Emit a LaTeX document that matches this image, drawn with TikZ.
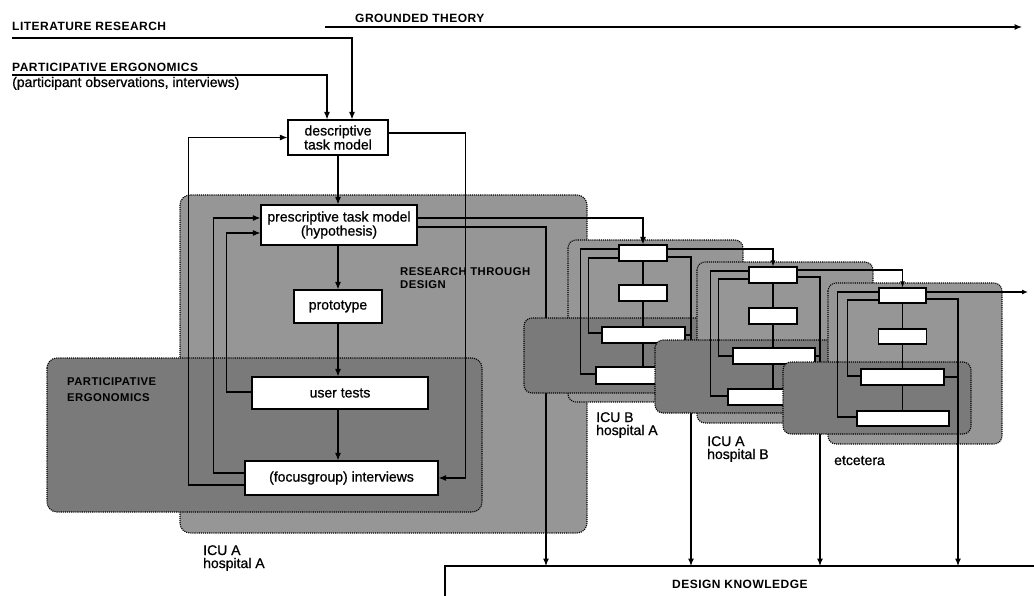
\documentclass[tikz,border=0pt]{standalone}
\usepackage{fontspec}
\setmainfont{Liberation Sans}
\newfontfamily\boxfont[FakeBold=0.8]{Liberation Sans}
\newfontfamily\headfont[LetterSpace=4]{Liberation Sans}
\usetikzlibrary{arrows.meta,calc}
\begin{document}
\begin{tikzpicture}[x=1pt,y=-1pt,
  conn/.style={line width=1.15pt},
  arr/.style={conn,-{Latex[length=7.5pt,width=6pt]}},
  sarr/.style={conn,-{Latex[length=6pt,width=5pt]}},
  box/.style={draw,fill=white,line width=1.1pt,inner sep=0pt,align=center,font=\boxfont\fontsize{14}{13}\selectfont},
  sbox/.style={draw,fill=white,line width=1.1pt,inner sep=0pt},
  rtd/.style={fill=black!41,draw=black,densely dotted,line width=1.1pt,rounded corners=10pt},
  pe/.style={fill=black!52,draw=black,densely dotted,line width=1.1pt,rounded corners=10pt},
  head/.style={font=\headfont\bfseries\fontsize{12}{12}\selectfont,inner sep=0pt,anchor=base west},
  rlab/.style={font=\headfont\bfseries\fontsize{11.3}{11.3}\selectfont,inner sep=0pt,anchor=base west,text=black},
  lbl/.style={font=\boxfont\fontsize{14}{13}\selectfont,inner sep=0pt,anchor=base west}]
\useasboundingbox (0,0) rectangle (1034,596);

% ---------- headings ----------
\node[head] (lr) at (12,31) {LITERATURE RESEARCH};
\node[head] (gt) at (355,23) {GROUNDED THEORY};
\node[head] (pehead) at (12,72) {PARTICIPATIVE ERGONOMICS};
\node[lbl] (pesub) at (12,87) {(participant observations, interviews)};
\coordinate (lrstart) at (12,38);
\coordinate (pestart) at (12,75);
\coordinate (gtstart) at (325,27);
\coordinate (gtend) at (1022,27);

% ---------- design knowledge ----------
\coordinate (dkbl) at (445,600);
\coordinate (dktl) at (445,566);
\coordinate (dktr) at (1040,566);
\coordinate (dk1) at (546,566);
\coordinate (dk2) at (691,566);
\coordinate (dk3) at (820,566);
\coordinate (dk4) at (958,566);
\draw[conn] (dkbl) -- (dktl) -- (dktr);
\node[head] (dk) at (672,588) {DESIGN KNOWLEDGE};

% ---------- main card: ICU A hospital A ----------
\draw[rtd] (180,195) rectangle (587,533);
\draw[pe] (47,358) rectangle (482,512);
\node[rlab] (rtd1) at (400,276) {RESEARCH THROUGH};
\node[rlab] (rtd2) at (400,289) {DESIGN};
\node[rlab] (pel1) at (67,385) {PARTICIPATIVE};
\node[rlab] (pel2) at (67,401) {ERGONOMICS};

\node[box,minimum width=100pt,minimum height=35pt] (desc) at (338,137.5) {descriptive\\task model};
\node[box,minimum width=156pt,minimum height=40pt] (presc) at (339,225) {prescriptive task model\\(hypothesis)};
\node[box,minimum width=88pt,minimum height=33pt] (proto) at (338,306.5) {prototype};
\node[box,minimum width=176pt,minimum height=32pt] (utest) at (340,393) {user tests};
\node[box,minimum width=193pt,minimum height=34pt] (focus) at (341.5,478) {(focusgroup) interviews};

\draw[arr] (lrstart) -| ([xshift=14pt]desc.north);
\draw[arr] (pestart) -| ([xshift=-11pt]desc.north);
\draw[arr] (gtstart) -- (gtend);

\draw[arr] (desc.south) -- (desc.south |- presc.north);
\draw[arr] (proto.north |- presc.south) -- (proto.north);
\draw[arr] (proto.south) -- (proto.south |- utest.north);
\draw[arr] (proto.south |- utest.south) -- (proto.south |- focus.north);

\draw[arr] ($(focus.west)+(0,7)$) -| ([xshift=-99pt]desc.west) -- (desc.west);
\draw[arr] ($(focus.west)+(0,-5)$) -| ($(presc.west)+(-47,-7)$) -- ($(presc.west)+(0,-7)$);
\draw[arr] ($(utest.west)+(0,-1)$) -| ($(presc.west)+(-34,8)$) -- ($(presc.west)+(0,8)$);
\draw[arr] ($(desc.east)+(0,-4.5)$) -| ($(focus.east)+(27,0)$) -- (focus.east);
\draw[arr] ($(presc.east)+(0,2)$) -| (dk1);

\node[lbl] (la1) at (203,555) {ICU A};
\node[lbl] (la2) at (203,568) {hospital A};

% ---------- ICU B hospital A ----------
\draw[rtd,rounded corners=8pt] (568,240) rectangle (743,402);
\draw[pe,rounded corners=8pt] (524,318) rectangle (708,393);
\node[sbox,minimum width=48pt,minimum height=16pt] (b1) at (643,253) {};
\node[sbox,minimum width=48pt,minimum height=16pt] (b2) at (643,293) {};
\node[sbox,minimum width=83pt,minimum height=16pt] (b3) at (643.5,335) {};
\node[sbox,minimum width=92pt,minimum height=17pt] (b4) at (642,375.5) {};
\draw[conn] (b1.south) -- (b1.south |- b2.north);
\draw[conn] (b1.south |- b2.south) -- (b1.south |- b3.north);
\draw[conn] (b1.south |- b3.south) -- (b1.south |- b4.north);
\draw[conn] ($(b4.west)+(0,-1.5)$) -| ($(b1.west)+(-38,-4)$) -- ($(b1.west)+(0,-4)$);
\draw[conn] ($(b3.west)+(0,-2)$) -| ($(b1.west)+(-30,5)$) -- ($(b1.west)+(0,5)$);
\draw[arr] ($(b1.east)+(0,4)$) -| (dk2);
\draw[conn] (b3.east) -- (b3.east -| dk2);
\node[lbl] (lb1) at (596,422) {ICU B};
\node[lbl] (lb2) at (596,435) {hospital A};

% ---------- ICU A hospital B ----------
\draw[rtd,rounded corners=8pt] (697,262) rectangle (873,423);
\draw[pe,rounded corners=8pt] (655,340) rectangle (836,413);
\node[sbox,minimum width=48pt,minimum height=16pt] (c1) at (773,275) {};
\node[sbox,minimum width=48pt,minimum height=16pt] (c2) at (773,316) {};
\node[sbox,minimum width=82pt,minimum height=16pt] (c3) at (774,356) {};
\node[sbox,minimum width=92pt,minimum height=16pt] (c4) at (774,397) {};
\draw[conn] (c1.south) -- (c1.south |- c2.north);
\draw[conn] (c1.south |- c2.south) -- (c1.south |- c3.north);
\draw[conn] (c1.south |- c3.south) -- (c1.south |- c4.north);
\draw[conn] ($(c4.west)+(0,-1)$) -| ($(c1.west)+(-38,-4)$) -- ($(c1.west)+(0,-4)$);
\draw[conn] (c3.west) -| ($(c1.west)+(-30,4)$) -- ($(c1.west)+(0,4)$);
\draw[arr] ($(c1.east)+(0,2)$) -| (dk3);
\draw[conn] (c3.east) -- (c3.east -| dk3);
\node[lbl] (lc1) at (707,446) {ICU A};
\node[lbl] (lc2) at (707,459) {hospital B};

% ---------- etcetera ----------
\draw[rtd,rounded corners=8pt] (828,283) rectangle (1002,444);
\draw[pe,rounded corners=8pt] (783,362) rectangle (971,434);
\node[sbox,minimum width=47pt,minimum height=15pt] (d1) at (902.5,295.5) {};
\node[sbox,minimum width=48pt,minimum height=15pt] (d2) at (902.5,336.5) {};
\node[sbox,minimum width=83pt,minimum height=16pt] (d3) at (902.5,377) {};
\node[sbox,minimum width=92pt,minimum height=15pt] (d4) at (903,418.5) {};
\draw[conn] (d1.south) -- (d1.south |- d2.north);
\draw[conn] (d1.south |- d2.south) -- (d1.south |- d3.north);
\draw[conn] (d1.south |- d3.south) -- (d1.south |- d4.north);
\draw[conn] ($(d4.west)+(0,-1.5)$) -| ($(d1.west)+(-41,-3.5)$) -- ($(d1.west)+(0,-3.5)$);
\draw[conn] ($(d3.west)+(0,-1)$) -| ($(d1.west)+(-31,4.5)$) -- ($(d1.west)+(0,4.5)$);
\draw[arr] ($(d1.east)+(0,3.5)$) -| (dk4);
\draw[conn] (d3.east) -- (d3.east -| dk4);
\node[lbl] (ld1) at (834,465) {etcetera};

% ---------- chain arrows ----------
\coordinate (outend) at (1028,292);
\draw[arr] ($(presc.east)+(0,-7)$) -| (b1.north);
\draw[sarr] ($(b1.east)+(0,-4)$) -| (c1.north);
\draw[sarr] ($(c1.east)+(0,-5)$) -| (d1.north);
\draw[sarr] ($(d1.east)+(0,-3.5)$) -- (outend);
\end{tikzpicture}
\end{document}
